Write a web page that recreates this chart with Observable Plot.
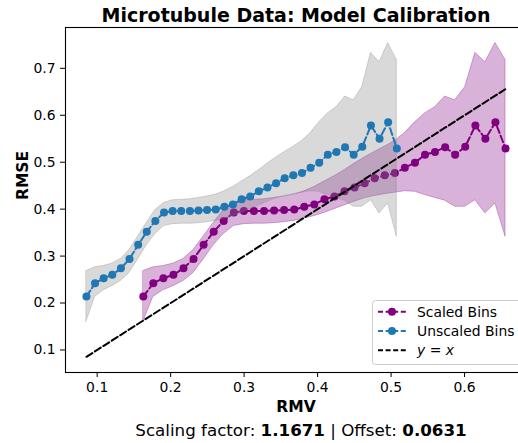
<!DOCTYPE html>
<html>
<head>
<meta charset="utf-8">
<script src="https://cdn.jsdelivr.net/npm/d3@7"></script>
<script src="https://cdn.jsdelivr.net/npm/@observablehq/plot@0.6"></script>
<style>
  html, body { margin: 0; padding: 0; background: white; }
  #chart { width: 518px; height: 443px; overflow: hidden; }
</style>
</head>
<body>
<div id="chart"></div>
<script>
// ---- data ----
const unscaledX = [0.0854, 0.0971, 0.1088, 0.1206, 0.1323, 0.1440, 0.1558, 0.1675, 0.1792, 0.1910,
  0.2027, 0.2144, 0.2262, 0.2379, 0.2496, 0.2614, 0.2731, 0.2848, 0.2966, 0.3083,
  0.3200, 0.3318, 0.3435, 0.3552, 0.3670, 0.3787, 0.3904, 0.4022, 0.4139, 0.4256,
  0.4374, 0.4491, 0.4608, 0.4726, 0.4843, 0.4960, 0.5078];
const scaledX = [0.1628, 0.1764, 0.1901, 0.2038, 0.2175, 0.2312, 0.2449, 0.2586, 0.2722, 0.2860,
  0.2997, 0.3133, 0.3271, 0.3408, 0.3544, 0.3682, 0.3818, 0.3955, 0.4093, 0.4229,
  0.4366, 0.4503, 0.4640, 0.4777, 0.4914, 0.5051, 0.5187, 0.5325, 0.5462, 0.5598,
  0.5736, 0.5872, 0.6009, 0.6147, 0.6283, 0.6420, 0.6558];
const rmse = [0.214, 0.242, 0.253, 0.260, 0.274, 0.294, 0.324, 0.352, 0.375, 0.393,
  0.396, 0.396, 0.396, 0.397, 0.398, 0.399, 0.405, 0.410, 0.421, 0.427,
  0.438, 0.446, 0.455, 0.466, 0.472, 0.477, 0.488, 0.499, 0.516, 0.522,
  0.532, 0.516, 0.533, 0.578, 0.550, 0.585, 0.529];
const upper = [0.268, 0.276, 0.279, 0.284, 0.294, 0.313, 0.342, 0.371, 0.398, 0.413,
  0.419, 0.420, 0.421, 0.424, 0.427, 0.431, 0.438, 0.447, 0.459, 0.470,
  0.483, 0.497, 0.510, 0.522, 0.533, 0.545, 0.562, 0.585, 0.604, 0.617,
  0.640, 0.632, 0.660, 0.733, 0.713, 0.754, 0.718];
const lower = [0.160, 0.213, 0.227, 0.236, 0.247, 0.264, 0.293, 0.323, 0.347, 0.364,
  0.368, 0.369, 0.369, 0.370, 0.372, 0.375, 0.380, 0.385, 0.392, 0.400,
  0.408, 0.416, 0.423, 0.428, 0.432, 0.435, 0.438, 0.437, 0.430, 0.424,
  0.418, 0.405, 0.405, 0.419, 0.391, 0.412, 0.341];
const identityX = [0.0854, 0.6558];
const xTicks = [0.1, 0.2, 0.3, 0.4, 0.5, 0.6];
const yTicks = [0.1, 0.2, 0.3, 0.4, 0.5, 0.6, 0.7];
const titleText = "Microtubule Data: Model Calibration";
const scalingFactor = "1.1671";
const offsetText = "0.0631";

const scaledRows = scaledX.map((x, i) => ({x, y: rmse[i], lo: lower[i], hi: upper[i]}));
const unscaledRows = unscaledX.map((x, i) => ({x, y: rmse[i], lo: lower[i], hi: upper[i]}));
const identityRows = identityX.map(v => ({x: v, y: v}));

const PURPLE = "purple", BLUE = "#1f77b4";
const FONT = "DejaVu Sans";
const dash = "7,3";

const svg = Plot.plot({
  width: 518,
  height: 443,
  marginLeft: 65,
  marginRight: -8,
  marginTop: 27,
  marginBottom: 71,
  style: {fontFamily: FONT, color: "black", background: "white", overflow: "hidden"},
  x: {domain: [0.0569, 0.6843]},
  y: {domain: [0.052, 0.787]},
  marks: [
    Plot.areaY(scaledRows, {x: "x", y1: "lo", y2: "hi", fill: PURPLE, fillOpacity: 0.3, stroke: PURPLE, strokeOpacity: 0.3, strokeWidth: 1}),
    Plot.line(scaledRows, {x: "x", y: "y", stroke: PURPLE, strokeWidth: 2, strokeDasharray: dash}),
    Plot.dot(scaledRows, {x: "x", y: "y", r: 4, fill: PURPLE, stroke: "none"}),
    Plot.areaY(unscaledRows, {x: "x", y1: "lo", y2: "hi", fill: "gray", fillOpacity: 0.3, stroke: "gray", strokeOpacity: 0.3, strokeWidth: 1}),
    Plot.line(unscaledRows, {x: "x", y: "y", stroke: BLUE, strokeWidth: 2, strokeDasharray: dash}),
    Plot.dot(unscaledRows, {x: "x", y: "y", r: 4, fill: BLUE, stroke: "none"}),
    Plot.line(identityRows, {x: "x", y: "y", stroke: "black", strokeWidth: 2, strokeDasharray: dash}),
    Plot.frame({stroke: "black", strokeWidth: 1.1}),
    Plot.axisX({ticks: xTicks, tickFormat: d3.format(".1f"), tickSize: 5, tickPadding: 5, fontSize: 13.9, label: null}),
    Plot.axisY({ticks: yTicks, tickFormat: d3.format(".1f"), tickSize: 5, tickPadding: 5, fontSize: 13.9, label: null}),
    Plot.text([titleText], {frameAnchor: "top", text: d => d, lineAnchor: "bottom", dy: -6, fontSize: 19, fontWeight: "bold", fill: "black"}),
    Plot.text(["RMV"], {frameAnchor: "bottom", text: d => d, lineAnchor: "bottom", dy: 39, fontSize: 15.5, fontWeight: "bold", fill: "black"}),
    Plot.text(["RMSE"], {frameAnchor: "left", text: d => d, rotate: -90, dx: -42, fontSize: 15.5, fontWeight: "bold", fill: "black"})
  ]
});

const s = d3.select(svg);
// caption with bold numbers
const cap = s.append("text")
  .attr("x", 301).attr("y", 436)
  .attr("text-anchor", "middle")
  .attr("font-family", FONT).attr("font-size", 16.7).attr("fill", "black");
cap.append("tspan").text("Scaling factor: ");
cap.append("tspan").attr("font-weight", "bold").text(scalingFactor);
cap.append("tspan").text(" | Offset: ");
cap.append("tspan").attr("font-weight", "bold").text(offsetText);

// legend
const lg = s.append("g").attr("font-family", FONT).attr("font-size", 13.9).attr("text-anchor", "start");
lg.append("rect").attr("x", 372.5).attr("y", 300.5).attr("width", 170).attr("height", 64)
  .attr("rx", 3).attr("fill", "white").attr("fill-opacity", 0.8).attr("stroke", "#cccccc");
const items = [
  {label: "Scaled Bins", color: PURPLE, marker: true},
  {label: "Unscaled Bins", color: BLUE, marker: true},
  {label: null, color: "black", marker: false}
];
items.forEach((it, k) => {
  const y = 311.7 + k * 19.3;
  lg.append("line").attr("x1", 378).attr("x2", 406).attr("y1", y).attr("y2", y)
    .attr("stroke", it.color).attr("stroke-width", 2).attr("stroke-dasharray", "5,2.6");
  if (it.marker) lg.append("circle").attr("cx", 392).attr("cy", y).attr("r", 4).attr("fill", it.color);
  const t = lg.append("text").attr("x", 417).attr("y", y + 5).attr("fill", "black").attr("text-anchor", "start");
  if (it.label) t.text(it.label);
  else {
    t.append("tspan").attr("font-style", "italic").text("y");
    t.append("tspan").text(" = ");
    t.append("tspan").attr("font-style", "italic").text("x");
  }
});

document.getElementById("chart").appendChild(svg);
</script>
</body>
</html>
